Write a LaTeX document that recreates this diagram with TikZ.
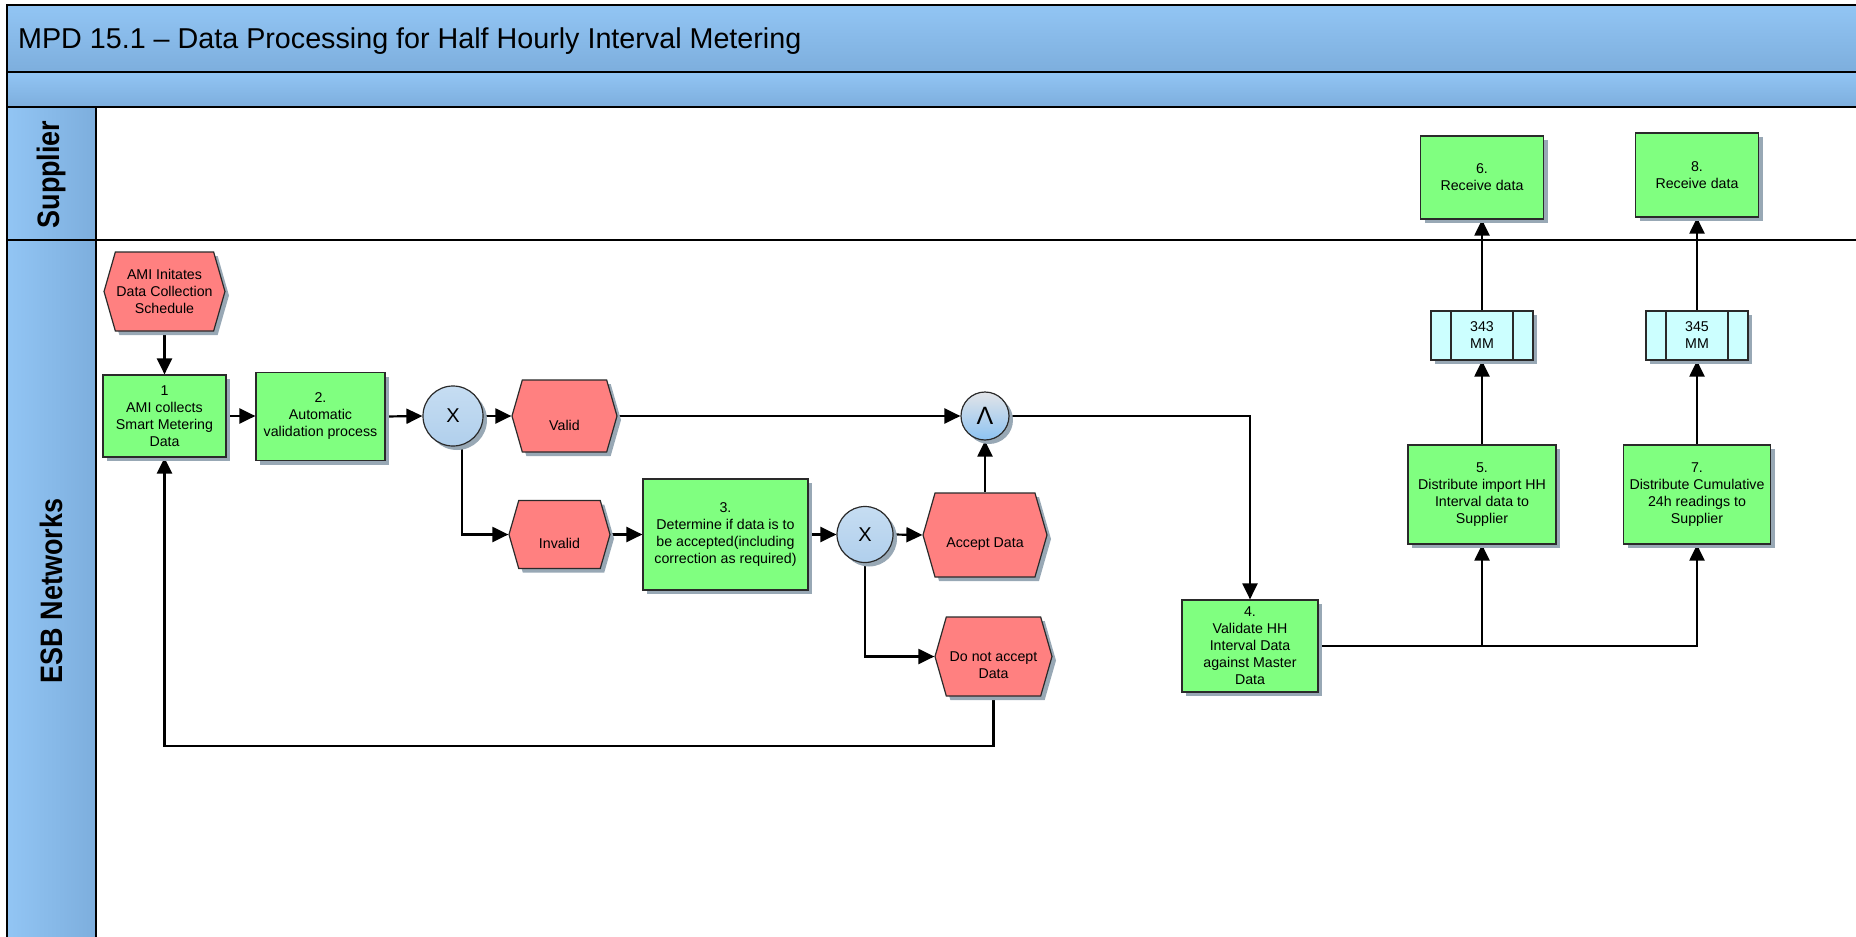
\documentclass[tikz,border=0pt]{standalone}
\usepackage{fontspec}
\setmainfont{Liberation Sans}
\newfontfamily\lanefont[FakeStretch=0.87]{Liberation Sans}
\usetikzlibrary{arrows.meta,shapes.symbols,shadows,calc}
\definecolor{procg}{HTML}{80FF80}
\definecolor{evtr}{HTML}{FF8080}
\definecolor{mmc}{HTML}{CCFFFF}
\definecolor{shadc}{HTML}{98A8B5}
\definecolor{bandtop}{HTML}{92C5F4}
\definecolor{bandbot}{HTML}{7DAEDD}
\definecolor{gwtop}{HTML}{C6DDF2}
\definecolor{gwbot}{HTML}{B0CFEC}
\definecolor{andtop}{HTML}{E2E4E8}
\definecolor{andbot}{HTML}{8DC3F2}
\definecolor{edgec}{HTML}{2A2A2A}
\pgfdeclarelayer{bg}
\pgfsetlayers{bg,main}
\newcommand\ndfont{\fontsize{14.2pt}{17pt}\selectfont}
\begin{document}
\begin{tikzpicture}[x=1pt,y=-1pt,
  shad/.style={drop shadow={shadow xshift=4pt,shadow yshift=-4pt,fill=shadc,opacity=1}},
  sz/.style 2 args={minimum width=#1pt,minimum height=#2pt},
  proc/.style={shape=rectangle,draw=edgec,line width=1.2pt,fill=procg,shad,font=\ndfont,align=center,inner sep=1pt},
  event/.style={shape=signal,signal to=west and east,signal pointer angle=148,draw=edgec,line width=1.2pt,fill=evtr,shad,font=\ndfont,align=center,inner sep=1pt},
  evlab/.style={font=\ndfont,align=center,inner sep=0pt,yshift=-9pt},
  gate/.style={circle,draw=edgec,line width=1.2pt,top color=gwtop,bottom color=gwbot,shad,inner sep=0pt,font=\fontsize{20pt}{22pt}\selectfont},
  andgate/.style={circle,draw=edgec,line width=1.2pt,top color=andtop,bottom color=andbot,shad,inner sep=0pt,font=\fontsize{25pt}{27pt}\selectfont},
  mmbox/.style={shape=rectangle,draw=edgec,line width=1.2pt,fill=mmc,shad,font=\ndfont,align=center,inner sep=1pt,
    path picture={\draw[edgec,line width=1.2pt] ([xshift=20pt]path picture bounding box.north west) -- ([xshift=20pt]path picture bounding box.south west);
                  \draw[edgec,line width=1.2pt] ([xshift=-20pt]path picture bounding box.north east) -- ([xshift=-20pt]path picture bounding box.south east);}},
  lane/.style={line width=2.2pt,black},
  conn/.style={line width=2.2pt,black},
  flow/.style={conn,-{Triangle[length=16pt,width=15pt]}}
]
\useasboundingbox (0,0) rectangle (1856,937);

% titles
\node[anchor=base west,inner sep=0pt,font=\fontsize{28.7pt}{34pt}\selectfont] (title) at (18,48) {MPD 15.1 – Data Processing for Half Hourly Interval Metering};
\node[rotate=90,inner sep=0pt,font=\lanefont\bfseries\fontsize{31pt}{34pt}\selectfont] (supl) at (51,174.5) {Supplier};
\node[rotate=90,inner sep=0pt,font=\lanefont\bfseries\fontsize{31pt}{34pt}\selectfont] (esb) at (51,591) {ESB Networks};

% ESB Networks lane
\node[event,sz={115}{79}] (ami) at (164.5,291.5) {AMI Initates\\Data Collection\\Schedule};
\node[proc,sz={123}{82}] (box1) at (164.5,416) {1\\AMI collects\\Smart Metering\\Data};
\node[proc,sz={129}{88}] (box2) at (320.5,416.5) {2.\\Automatic\\validation process};
\node[gate,sz={60}{60}] (x1) at (453,416) {X};
\node[event,sz={105}{72},label={[evlab]center:Valid}] (valid) at (564.5,416) {};
\node[event,sz={101}{68},label={[evlab]center:Invalid}] (inv) at (559.5,534.5) {};
\node[proc,sz={165}{111}] (box3) at (725.5,534.5) {3.\\Determine if data is to\\be accepted(including\\correction as required)};
\node[gate,sz={56}{56}] (x2) at (865,534.5) {X};
\node[event,sz={124}{84},label={[evlab]center:Accept Data}] (acc) at (985,535) {};
\node[event,sz={117}{79},label={[evlab]center:Do not accept\\Data}] (dna) at (993.5,656.5) {};
\node[andgate,sz={48}{48}] (and) at (985,416) {Λ};
\node[proc,sz={136}{92}] (box4) at (1250,646) {4.\\Validate HH\\Interval Data\\against Master\\Data};
\node[proc,sz={148}{99}] (box5) at (1482,494.5) {5.\\Distribute import HH\\Interval data to\\Supplier};
\node[proc,sz={147}{99}] (box7) at (1697,494.5) {7.\\Distribute Cumulative\\24h readings to\\Supplier};
\node[mmbox,sz={102}{49}] (mm343) at (1482,335.5) {343\\MM};
\node[mmbox,sz={102}{49}] (mm345) at (1697,335.5) {345\\MM};

% Supplier lane
\node[proc,sz={123}{83}] (box6) at (1482,177.5) {6.\\Receive data};
\node[proc,sz={123}{84}] (box8) at (1697,175) {8.\\Receive data};

\coordinate (loopc) at (993.5,746);

\begin{pgfonlayer}{bg}
\shade[top color=bandtop,bottom color=bandbot] (7,5) rectangle (1860,72);
\shade[top color=bandtop,bottom color=bandbot] (7,72) rectangle (1860,107);
\shade[left color=bandtop,right color=bandbot] (7,107) rectangle (96,240);
\shade[left color=bandtop,right color=bandbot] (7,240) rectangle (96,940);
\draw[lane] (1860,5) -- (7,5) -- (7,940);
\draw[lane] (7,72) -- (1860,72);
\draw[lane] (7,107) -- (1860,107);
\draw[lane] (7,240) -- (1860,240);
\draw[lane] (96,107) -- (96,940);

\draw[flow] (ami.south) -- (box1.north);
\draw[flow] (box1.east) -- (box1.east -| box2.west);
\draw[flow] (box2.east) -- (x1.west);
\draw[flow] (x1.east) -- (valid.west);
\draw[flow] ($(x1.center)+(9,0)$) |- (inv.west);
\draw[flow] (inv.east) -- (box3.west);
\draw[flow] (box3.east) -- (x2.west);
\draw[flow] (x2.east) -- (acc.west);
\draw[flow] (x2.center) |- (dna.west);
\draw[flow] (valid.east) -- (and.west);
\draw[flow] (acc.north) -- (and.south);
\draw[flow] (and.east) -| (box4.north);
\draw[flow] (box4.east) -| (box5.south);
\draw[flow] (box4.east) -| (box7.south);
\draw[flow] (box5.north) -- (mm343.south);
\draw[flow] (mm343.north) -- (box6.south);
\draw[flow] (box7.north) -- (mm345.south);
\draw[flow] (mm345.north) -- (box8.south);
\draw[flow] (dna.south) -- (loopc) -| (box1.south);
\end{pgfonlayer}
\end{tikzpicture}
\end{document}
